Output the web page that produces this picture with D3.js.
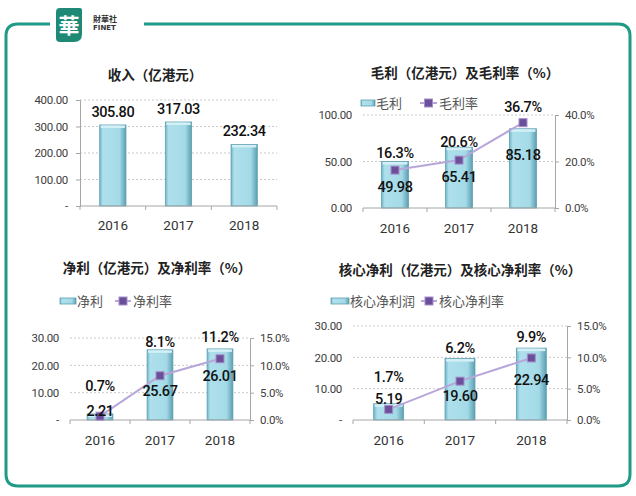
<!DOCTYPE html>
<html><head><meta charset="utf-8">
<script src="https://cdn.jsdelivr.net/npm/d3@7/dist/d3.min.js"></script>
<style>
html,body{margin:0;padding:0;background:#fff;}
svg{display:block;}
</style></head>
<body>
<svg id="c" width="636" height="496"></svg>
<script>
// ---------- data ----------
const years = ["2016", "2017", "2018"];
const revenue = [305.80, 317.03, 232.34];
const grossProfit = [49.98, 65.41, 85.18];
const grossMargin = [16.3, 20.6, 36.7];
const netProfit = [2.21, 25.67, 26.01];
const netMargin = [0.7, 8.1, 11.2];
const coreProfit = [5.19, 19.60, 22.94];
const coreMargin = [1.7, 6.2, 9.9];
const revTicks = [0, 100, 200, 300, 400];
const gpTicks = [0, 50, 100];
const gmTicks = [0, 20, 40];
const npTicks = [0, 10, 20, 30];
const nmTicks = [0, 5, 10, 15];
const titles = ["收入（亿港元）", "毛利（亿港元）及毛利率（%）", "净利（亿港元）及净利率（%）", "核心净利（亿港元）及核心净利率（%）"];
const barNames = [null, "毛利", "净利", "核心净利润"];
const lineNames = [null, "毛利率", "净利率", "核心净利率"];

// ---------- layout ----------
const NUM = "'Roboto','Noto Sans',sans-serif";
const CJK = "'Noto Sans CJK SC','Noto Sans',sans-serif";
const svg = d3.select("#c");
const defs = svg.append("defs");
const grad = defs.append("linearGradient").attr("id", "bar").attr("x1", 0).attr("x2", 1).attr("y1", 0).attr("y2", 0);
[[0, "#6fb6c9"], [0.12, "#aee0ec"], [0.75, "#a4dae7"], [1, "#5b9fb2"]].forEach(s =>
  grad.append("stop").attr("offset", s[0]).attr("stop-color", s[1]));

// frame
const teal = "#1f9a86";
svg.append("path")
  .attr("d", "M50,24 L18,24 Q6,24 6,36 L6,474 Q6,486 18,486 L618,486 Q630,486 630,474 L630,36 Q630,24 618,24 L144,24")
  .attr("fill", "none").attr("stroke", teal).attr("stroke-width", 3);
// logo
svg.append("path").attr("d", "M60,8 L80,8 Q82,8 82,10 L82,34 Q82,42 74,42 L60,42 Q56,42 56,38 L56,12 Q56,8 60,8 Z").attr("fill", "#1e8a76");
svg.append("text").attr("x", 69).attr("y", 33).attr("text-anchor", "middle").attr("font-family", CJK)
  .attr("font-size", 21).attr("font-weight", "bold").attr("fill", "#fff").text("華");
svg.append("text").attr("x", 93).attr("y", 22).attr("font-family", CJK).attr("font-size", 8).attr("font-weight", "bold").attr("fill", "#333").text("財華社");
svg.append("text").attr("x", 93).attr("y", 30).attr("font-family", "'DejaVu Sans',sans-serif").attr("font-size", 7).attr("font-weight", "bold").attr("fill", "#333").text("FINET");

const panels = [
  { title: titles[0], tx: 155, ty: 80, x0: 80, x1: 277, yTop: 100, yBot: 206, lMax: 400, lTicks: revTicks, bars: revenue, zero: "-", pad: 0.6, leftAxis: true, xlY: 230 },
  { title: titles[1], tx: 465, ty: 78, x0: 363, x1: 555, yTop: 115, yBot: 208, lMax: 100, lTicks: gpTicks, bars: grossProfit, zero: "0.00", pad: 0.58,
    rMax: 40, rTicks: gmTicks, rates: grossMargin, legY: 103, legX: [361, 376, 420, 439], bName: barNames[1], lName: lineNames[1],
    pctDy: [-17, -18, -16], valDy: [17, 17, 32], xlY: 233 },
  { title: titles[2], tx: 157, ty: 273, x0: 70, x1: 250, yTop: 338, yBot: 420, lMax: 30, lTicks: npTicks, bars: netProfit, zero: "-", pad: 0.57,
    rMax: 15, rTicks: nmTicks, rates: netMargin, legY: 301, legX: [60, 77, 115, 133], bName: barNames[2], lName: lineNames[2],
    pctDy: [-30, -34, -22], valDy: [-5, 15, 17], xlY: 445 },
  { title: titles[3], tx: 460, ty: 275, x0: 353, x1: 567, yTop: 326, yBot: 420, lMax: 30, lTicks: npTicks, bars: coreProfit, zero: "-", pad: 0.58,
    rMax: 15, rTicks: nmTicks, rates: coreMargin, legY: 301, legX: [331, 350, 421, 439], bName: barNames[3], lName: lineNames[3],
    pctDy: [-33, -33, -21], valDy: [-11, 15, 22], xlY: 445 }
];

const fmt2 = d3.format(".2f");
const fmt1 = d => d3.format(".1f")(d) + "%";

function marker(g, x, y) {
  g.append("rect").attr("x", x - 4).attr("y", y - 4).attr("width", 8).attr("height", 8)
    .attr("fill", "#6b4f98").attr("stroke", "#a690cc").attr("stroke-width", 1);
}

panels.forEach(p => {
  const g = svg.append("g");
  g.append("text").attr("x", p.tx).attr("y", p.ty).attr("text-anchor", "middle").attr("font-family", CJK)
    .attr("font-size", 13.5).attr("font-weight", "bold").attr("fill", "#222").text(p.title);

  const x = d3.scaleBand().domain(years).range([p.x0, p.x1]).paddingInner(p.pad).paddingOuter(p.pad / 2);
  const y = d3.scaleLinear().domain([0, p.lMax]).range([p.yBot, p.yTop]);

  // grid
  g.selectAll(".grid").data(p.lTicks.filter(t => t > 0)).join("line")
    .attr("x1", p.x0).attr("x2", p.x1).attr("y1", d => y(d)).attr("y2", d => y(d))
    .attr("stroke", "#c9c9c9").attr("stroke-dasharray", "2,2");

  // left axis labels
  const la = g.append("g").attr("transform", `translate(${p.x0},0)`)
    .call(d3.axisLeft(y).tickValues(p.lTicks).tickSize(p.leftAxis ? 4 : 0).tickPadding(p.leftAxis ? 8 : 11)
      .tickFormat(d => d === 0 ? p.zero : fmt2(d)));
  la.select(".domain").attr("stroke", p.leftAxis ? "#a6a6a6" : "none");
  la.selectAll(".tick line").attr("stroke", "#a6a6a6");
  la.selectAll("text").attr("font-family", NUM).attr("font-size", 11.5).attr("fill", "#404040").attr("letter-spacing", -0.3);

  // bars
  g.selectAll(".bar").data(p.bars).join("rect")
    .attr("x", (d, i) => x(years[i])).attr("width", x.bandwidth())
    .attr("y", d => y(d)).attr("height", d => p.yBot - y(d))
    .attr("fill", "url(#bar)").attr("stroke", "#5e9fb0").attr("stroke-width", 0.8);
  g.selectAll(".bartop").data(p.bars).join("rect")
    .attr("x", (d, i) => x(years[i]) + 1).attr("width", x.bandwidth() - 2)
    .attr("y", d => y(d) + 0.5).attr("height", 2.5).attr("fill", "#d4f0f6");

  // x axis
  g.append("line").attr("x1", p.x0).attr("x2", p.x1).attr("y1", p.yBot).attr("y2", p.yBot).attr("stroke", "#a6a6a6");
  const step = (p.x1 - p.x0) / years.length;
  d3.range(years.length + 1).forEach(i =>
    g.append("line").attr("x1", p.x0 + i * step).attr("x2", p.x0 + i * step).attr("y1", p.yBot).attr("y2", p.yBot + 4).attr("stroke", "#a6a6a6"));
  g.selectAll(".xl").data(years).join("text")
    .attr("x", d => x(d) + x.bandwidth() / 2).attr("y", p.xlY).attr("text-anchor", "middle")
    .attr("font-family", NUM).attr("font-size", 13.5).attr("fill", "#333").text(d => d);

  const valStyle = s => s.attr("text-anchor", "middle").attr("font-family", NUM).attr("font-size", 14.5)
    .attr("font-weight", 500).attr("fill", "#111").attr("letter-spacing", -0.4);

  if (!p.rates) {
    g.selectAll(".vl").data(p.bars).join("text")
      .attr("x", (d, i) => x(years[i]) + x.bandwidth() / 2).attr("y", d => y(d) - 8)
      .call(valStyle).text(fmt2);
    return;
  }

  const yr = d3.scaleLinear().domain([0, p.rMax]).range([p.yBot, p.yTop]);
  const ra = g.append("g").attr("transform", `translate(${p.x1},0)`)
    .call(d3.axisRight(yr).tickValues(p.rTicks).tickSize(4).tickPadding(6).tickFormat(d => d3.format(".1f")(d) + "%"));
  ra.select(".domain").attr("stroke", "#a6a6a6");
  ra.selectAll(".tick line").attr("stroke", "#a6a6a6");
  ra.selectAll("text").attr("font-family", NUM).attr("font-size", 11.5).attr("fill", "#404040").attr("letter-spacing", -0.3);

  const cx = i => x(years[i]) + x.bandwidth() / 2;
  // line
  g.append("path").datum(p.rates)
    .attr("d", d3.line().x((d, i) => cx(i)).y(d => yr(d)))
    .attr("fill", "none").attr("stroke", "#b8a6da").attr("stroke-width", 2);
  p.rates.forEach((r, i) => marker(g, cx(i), yr(r)));

  // labels
  g.selectAll(".pl").data(p.rates).join("text")
    .attr("x", (d, i) => cx(i)).attr("y", (d, i) => yr(d) + p.pctDy[i] + 5.2)
    .call(valStyle).text(fmt1);
  g.selectAll(".vl").data(p.bars).join("text")
    .attr("x", (d, i) => cx(i)).attr("y", (d, i) => yr(p.rates[i]) + p.valDy[i] + 5.2)
    .call(valStyle).text(fmt2);

  // legend
  const [bx, btx, lx, ltx] = p.legX;
  g.append("rect").attr("x", bx).attr("y", p.legY - 3).attr("width", btx - bx - 1).attr("height", 6)
    .attr("fill", "url(#bar)").attr("stroke", "#5e9fb0").attr("stroke-width", 0.8);
  g.append("text").attr("x", btx).attr("y", p.legY + 4.5).attr("font-family", CJK).attr("font-size", 13).attr("fill", "#555").text(p.bName);
  g.append("line").attr("x1", lx).attr("x2", ltx - 2).attr("y1", p.legY).attr("y2", p.legY).attr("stroke", "#b8a6da").attr("stroke-width", 2);
  marker(g, (lx + ltx - 2) / 2, p.legY);
  g.append("text").attr("x", ltx).attr("y", p.legY + 4.5).attr("font-family", CJK).attr("font-size", 13).attr("fill", "#555").text(p.lName);
});
</script>
</body></html>
